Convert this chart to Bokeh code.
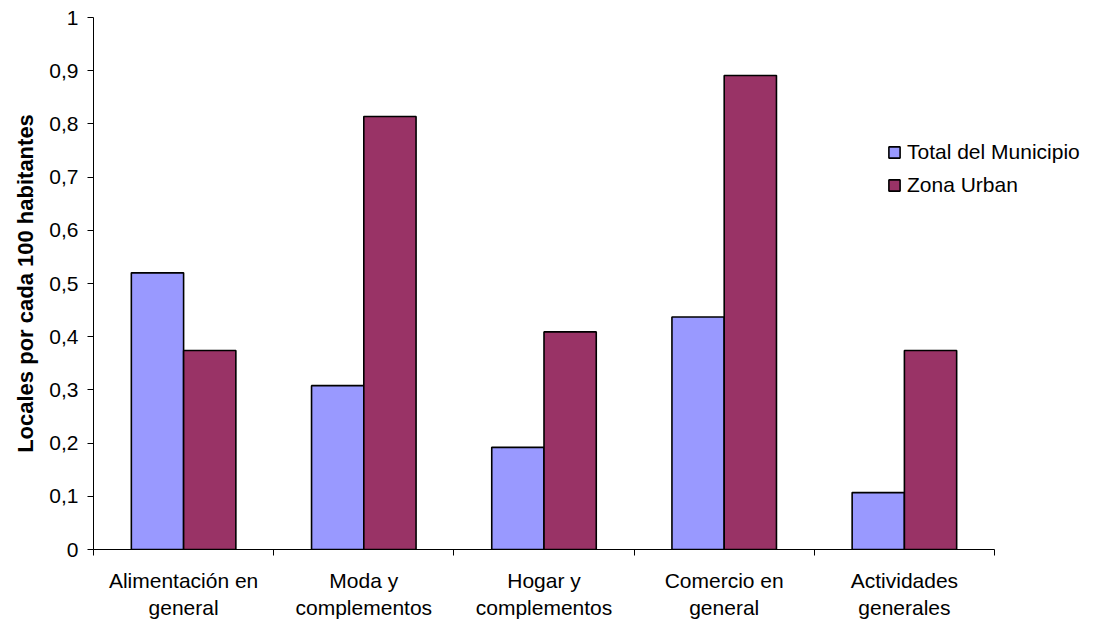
from bokeh.plotting import figure
from bokeh.models import ColumnDataSource, FixedTicker, LinearAxis, Range1d, Legend, LegendItem
from bokeh.embed import file_html
from bokeh.resources import INLINE

categories = ["Alimentación en\ngeneral", "Moda y\ncomplementos", "Hogar y\ncomplementos",
              "Comercio en\ngeneral", "Actividades\ngenerales"]
total_municipio = [0.52, 0.308, 0.192, 0.437, 0.107]
zona_urban = [0.374, 0.814, 0.409, 0.891, 0.374]
y_ticks = [0, 0.1, 0.2, 0.3, 0.4, 0.5, 0.6, 0.7, 0.8, 0.9, 1.0]
y_tick_labels = ["0", "0,1", "0,2", "0,3", "0,4", "0,5", "0,6", "0,7", "0,8", "0,9", "1"]

FONT = "Liberation Sans"
FS = "21px"
bw = 0.29
n = len(categories)
centers = [i + 0.5 for i in range(n)]
src = ColumnDataSource(dict(
    xb=[c - bw / 2 for c in centers],
    xr=[c + bw / 2 for c in centers],
    tot=total_municipio,
    zon=zona_urban,
))

# frame spans 93..1090 px; category axis occupies 93..994 px
x_end = n * (1090 - 93) / (994 - 93)

p = figure(width=1095, height=622, output_backend="svg", toolbar_location=None,
           x_range=Range1d(0, x_end), y_range=Range1d(0, 1),
           min_border_left=93, min_border_top=17, min_border_right=5, min_border_bottom=10,
           x_axis_type=None, y_axis_location="left")
p.outline_line_color = None
p.xgrid.visible = False
p.ygrid.visible = False
p.background_fill_color = "white"
p.border_fill_color = "white"

rb = p.vbar(x="xb", top="tot", width=bw, bottom=0, source=src,
            fill_color="#9999FF", line_color="black", line_width=1.6)
rr = p.vbar(x="xr", top="zon", width=bw, bottom=0, source=src,
            fill_color="#993366", line_color="black", line_width=1.6)

# y axis
ya = p.yaxis[0]
ya.ticker = FixedTicker(ticks=y_ticks)
ya.major_label_overrides = {t: l for t, l in zip(y_ticks, y_tick_labels)}
ya.major_label_text_font = FONT
ya.major_label_text_font_size = FS
ya.major_label_text_color = "black"
ya.major_tick_in = 0
ya.major_tick_out = 6
ya.minor_tick_line_color = None
ya.axis_line_color = "black"
ya.major_tick_line_color = "black"
ya.major_label_standoff = 9
ya.axis_label = "Locales por cada 100 habitantes"
ya.axis_label_text_font = FONT
ya.axis_label_text_font_style = "bold"
ya.axis_label_text_font_size = "22px"
ya.axis_label_text_color = "black"
ya.axis_label_standoff = 8

# x axis with boundary ticks
xa = LinearAxis(ticker=FixedTicker(ticks=list(range(n + 1))), bounds=(0, n))
xa.major_label_overrides = {i: "" for i in range(n + 1)}
xa.major_label_text_font_size = "1px"
xa.major_tick_in = 0
xa.major_tick_out = 6
xa.axis_line_color = "black"
xa.major_tick_line_color = "black"
xa.minor_tick_line_color = None
xa.major_label_standoff = 0
p.add_layout(xa, "below")

# x axis with category labels
xl = LinearAxis(ticker=FixedTicker(ticks=centers), bounds=(0, n))
xl.major_label_overrides = {c: l for c, l in zip(centers, categories)}
xl.axis_line_color = None
xl.major_tick_line_color = None
xl.minor_tick_line_color = None
xl.major_label_text_font = FONT
xl.major_label_text_font_size = FS
xl.major_label_text_color = "black"
xl.major_label_standoff = 7
p.add_layout(xl, "below")

legend = Legend(items=[LegendItem(label="Total del Municipio", renderers=[rb]),
                       LegendItem(label="Zona Urban", renderers=[rr])],
                location=(794, 352))
legend.border_line_color = None
legend.background_fill_alpha = 0
legend.padding = 0
legend.margin = 0
legend.spacing = 9
legend.glyph_width = 14
legend.glyph_height = 14
legend.label_height = 14
legend.label_standoff = 6
legend.label_text_font = FONT
legend.label_text_font_size = FS
legend.label_text_color = "black"
legend.label_text_baseline = "middle"
p.add_layout(legend, "center")

open("out.html", "w").write(file_html(p, INLINE))
